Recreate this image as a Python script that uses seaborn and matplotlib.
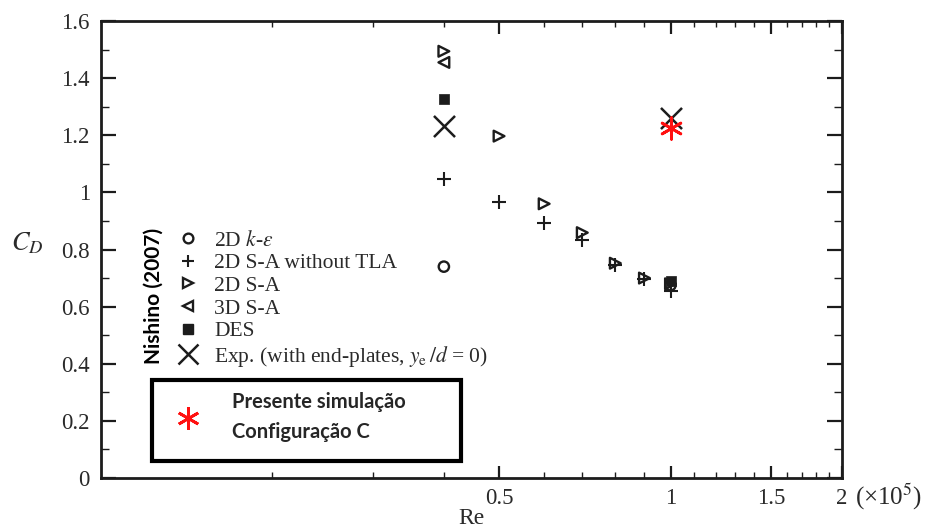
import matplotlib
matplotlib.use("Agg")
import matplotlib.pyplot as plt
import seaborn as sns
from matplotlib.lines import Line2D
from matplotlib.patches import Rectangle
from matplotlib.ticker import FixedLocator, FuncFormatter, NullFormatter

# Reynolds number in units of 1e5, drag coefficient C_D
re_ke = [0.4, 1.0]
cd_ke = [0.74, 0.675]

re_sa_notla = [0.4, 0.5, 0.6, 0.7, 0.8, 0.9, 1.0]
cd_sa_notla = [1.047, 0.967, 0.894, 0.834, 0.745, 0.695, 0.655]

re_sa2d = [0.4, 0.5, 0.6, 0.7, 0.8, 0.9, 1.0]
cd_sa2d = [1.494, 1.197, 0.960, 0.859, 0.752, 0.700, 0.680]

re_sa3d = [0.4]
cd_sa3d = [1.455]

re_des = [0.4, 1.0]
cd_des = [1.327, 0.691]

re_exp = [0.4, 1.0]
cd_exp = [1.232, 1.260]

re_present = [1.0]
cd_present = [1.225]

series_labels = [
    "2D $k$-$\\varepsilon$",
    "2D S-A without TLA",
    "2D S-A",
    "3D S-A",
    "DES",
    "Exp. (with end-plates, $y_{\\rm e}\\,/d$ = 0)",
]
present_label = "Presente simulação\nConfiguração C"

x_major = [0.5, 1.0, 1.5, 2.0]
x_major_labels = ["0.5", "1", "1.5", "2"]
x_minor = [0.2, 0.3, 0.4, 0.6, 0.7, 0.8, 0.9, 1.1, 1.2, 1.3, 1.4, 1.6, 1.7, 1.8, 1.9]
y_major = [0, 0.2, 0.4, 0.6, 0.8, 1.0, 1.2, 1.4, 1.6]
y_minor = [0.1, 0.3, 0.5, 0.7, 0.9, 1.1, 1.3, 1.5]

sns.set_theme(style="ticks")
plt.rcParams["font.family"] = ["Liberation Serif", "DejaVu Serif"]
plt.rcParams["mathtext.fontset"] = "stix"

INK = "#1c1c1c"
TXT = "#2a2a2a"
fig = plt.figure(figsize=(9.29, 5.29), dpi=100)
fig.patch.set_facecolor("white")
ax = fig.add_axes([0.1087, 0.0964, 0.7976, 0.8639])
ax.set_facecolor("white")

ax.set_xscale("log")
ax.set_xlim(0.1, 2.0)
ax.set_ylim(0, 1.6)

lw = 1.7
sns.scatterplot(x=re_ke, y=cd_ke, marker="o", s=55, color=INK, facecolor="none",
                edgecolor=INK, linewidth=lw, ax=ax, legend=False, zorder=3)
sns.scatterplot(x=re_sa2d, y=cd_sa2d, marker=">", s=60, color=INK, facecolor="none",
                edgecolor=INK, linewidth=lw, ax=ax, legend=False, zorder=3)
sns.scatterplot(x=re_sa3d, y=cd_sa3d, marker="<", s=60, color=INK, facecolor="none",
                edgecolor=INK, linewidth=lw, ax=ax, legend=False, zorder=3)
sns.scatterplot(x=re_sa_notla, y=cd_sa_notla, marker="+", s=110, color=INK,
                linewidth=1.5, ax=ax, legend=False, zorder=3)
sns.scatterplot(x=re_des, y=cd_des, marker="s", s=55, color=INK, edgecolor=INK,
                linewidth=0.5, ax=ax, legend=False, zorder=4)
sns.scatterplot(x=re_exp, y=cd_exp, marker="x", s=230, color=INK,
                linewidth=1.8, ax=ax, legend=False, zorder=4)
sns.scatterplot(x=re_present, y=cd_present, marker=(6, 2, 0), s=240, color="#ff1010",
                linewidth=2.0, ax=ax, legend=False, zorder=5)

# Axis frame and ticks
for sp in ax.spines.values():
    sp.set_linewidth(2.0)
    sp.set_color(INK)
    sp.set_visible(True)

ax.xaxis.set_major_locator(FixedLocator(x_major))
ax.xaxis.set_minor_locator(FixedLocator(x_minor))
ax.set_xticklabels(x_major_labels)
ax.xaxis.set_minor_formatter(NullFormatter())
ax.yaxis.set_major_locator(FixedLocator(y_major))
ax.yaxis.set_minor_locator(FixedLocator(y_minor))
ax.yaxis.set_major_formatter(FuncFormatter(lambda v, p: f"{v:g}"))

ax.tick_params(axis="both", which="both", direction="in", top=True, right=True,
               color=INK, labelcolor=TXT, labelsize=16.5)
ax.tick_params(axis="x", which="major", length=9, width=1.6, pad=7)
ax.tick_params(axis="x", which="minor", length=4.5, width=1.0)
ax.tick_params(axis="y", which="major", length=11, width=1.6, pad=8)
ax.tick_params(axis="y", which="minor", length=6, width=1.0)

ax.text(1.0175, -0.042, "(×10$^{5}$)", transform=ax.transAxes, ha="left", va="center",
        fontsize=18, color=TXT)

ax.set_xlabel("Re", fontsize=17, color=TXT)
ax.xaxis.set_label_coords(0.5, -0.088)
ax.xaxis.label.set_va("center")
ax.set_ylabel("$C_D$", fontsize=19, rotation=0, color=TXT)
ax.yaxis.set_label_coords(-0.099, 0.513)
ax.yaxis.label.set_ha("center")
ax.yaxis.label.set_va("center")

# Legend for the reference data
handles = [
    Line2D([], [], ls="", marker="o", ms=7, mfc="none", mec=INK, mew=lw),
    Line2D([], [], ls="", marker="+", ms=9, mec=INK, mew=1.5),
    Line2D([], [], ls="", marker=">", ms=7, mfc="none", mec=INK, mew=lw),
    Line2D([], [], ls="", marker="<", ms=7, mfc="none", mec=INK, mew=lw),
    Line2D([], [], ls="", marker="s", ms=7, mfc=INK, mec=INK),
    Line2D([], [], ls="", marker="x", ms=14, mec=INK, mew=1.8),
]
leg1 = ax.legend(handles, series_labels, loc="upper left", bbox_to_anchor=(0.1034, 0.5415),
                 frameon=False, borderpad=0, borderaxespad=0, handlelength=1.0,
                 handletextpad=0.70, labelspacing=0.12, prop={"size": 15.5})
for t in leg1.get_texts():
    t.set_color(TXT)
ax.add_artist(leg1)

ax.text(0.0705, 0.547, "Nishino (2007)", transform=ax.transAxes, rotation=90,
        ha="center", va="top", fontsize=15, fontweight="bold", family=["Lato", "DejaVu Sans"],
        color="black")

# Boxed legend for the present simulation
ax.add_patch(Rectangle((0.0688, 0.0372), 0.4170, 0.1772, transform=ax.transAxes,
                       fill=False, edgecolor="black", linewidth=3.0, zorder=6))
present_handle = [Line2D([], [], ls="", marker=(6, 2, 0), ms=16, mec="#ff1010", mew=2.0)]
leg2 = ax.legend(present_handle, [present_label], loc="center left",
                 bbox_to_anchor=(0.1012, 0.1335), frameon=False, borderpad=0, borderaxespad=0,
                 handlelength=1.2, handletextpad=1.59,
                 prop={"family": ["Lato", "DejaVu Sans"], "weight": "bold", "size": 14.5})
for t in leg2.get_texts():
    t.set_linespacing(1.65)

fig.savefig("out.png", dpi=100, facecolor="white")
